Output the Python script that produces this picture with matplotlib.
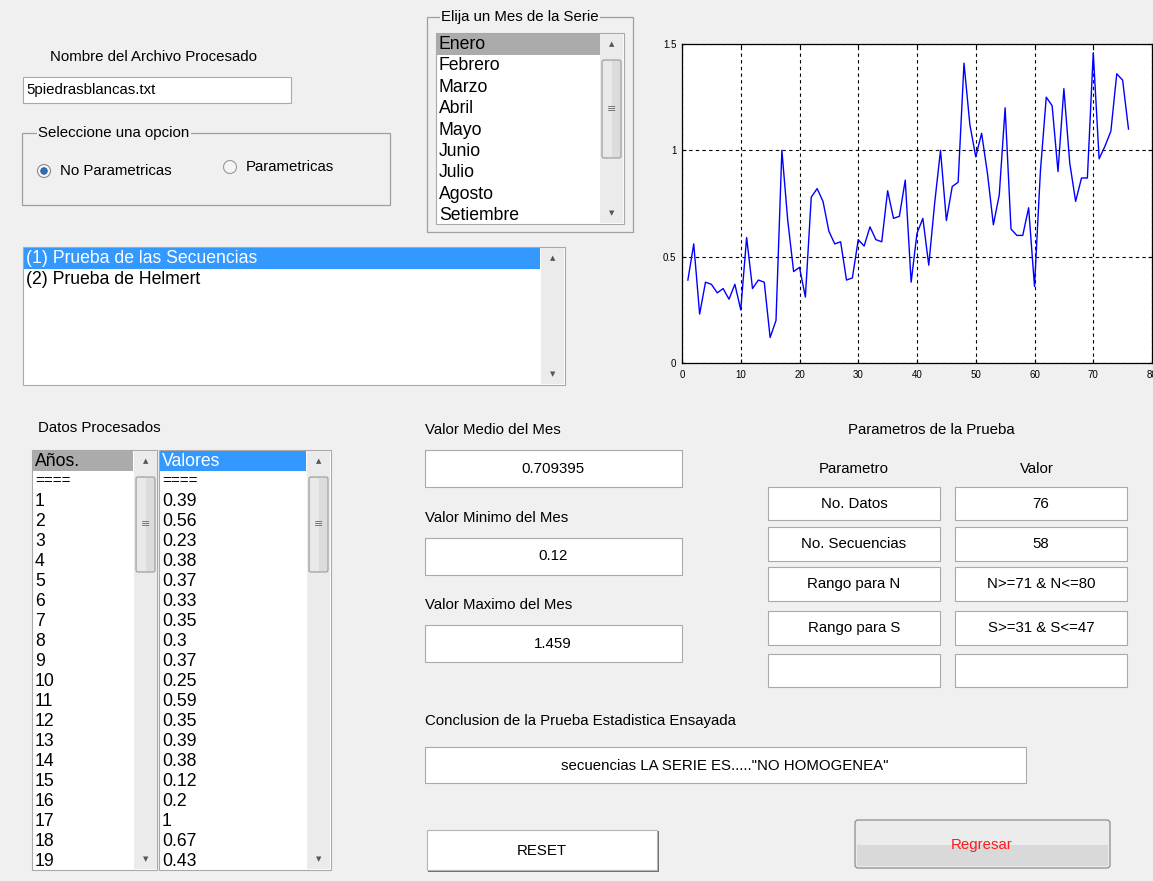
import numpy as np
import matplotlib
matplotlib.use('Agg')
import matplotlib.pyplot as plt
from matplotlib.patches import Rectangle, Circle, FancyBboxPatch

plt.rcParams['font.family'] = ['Liberation Sans', 'DejaVu Sans']

# ---- data ----
valores = [0.39, 0.56, 0.23, 0.38, 0.37, 0.33, 0.35, 0.30, 0.37, 0.25,
           0.59, 0.35, 0.39, 0.38, 0.12, 0.20, 1.00, 0.67, 0.43, 0.45,
           0.31, 0.78, 0.82, 0.76, 0.62, 0.56, 0.57, 0.39, 0.40, 0.58,
           0.55, 0.64, 0.58, 0.57, 0.81, 0.68, 0.69, 0.86, 0.38, 0.61,
           0.68, 0.46, 0.75, 1.00, 0.67, 0.83, 0.85, 1.41, 1.12, 0.97,
           1.08, 0.89, 0.65, 0.79, 1.20, 0.63, 0.60, 0.60, 0.73, 0.36,
           0.90, 1.25, 1.21, 0.90, 1.29, 0.94, 0.76, 0.87, 0.87, 1.459,
           0.96, 1.02, 1.09, 1.36, 1.33, 1.10]
anos = list(range(1, len(valores) + 1))

meses = ['Enero', 'Febrero', 'Marzo', 'Abril', 'Mayo', 'Junio', 'Julio',
         'Agosto', 'Setiembre']
pruebas = ['(1) Prueba de las Secuencias', '(2) Prueba de Helmert']
param_nombres = ['No. Datos', 'No. Secuencias', 'Rango para N', 'Rango para S', '']
param_valores = [str(len(valores)), '58', 'N>=71 & N<=80', 'S>=31 & S<=47', '']
archivo = '5piedrasblancas.txt'
valor_medio = '0.709395'
conclusion = 'secuencias LA SERIE ES....."NO HOMOGENEA"'
filas_visibles = 19

W, H = 1153, 881
BG = '#f0f0f0'
EDGE = '#a9a9a9'
SEL_BLUE = '#3399ff'
SEL_GRAY = '#ababab'
FS = 10.8      # label / edit-box font
FL = 12.7      # listbox font

fig = plt.figure(figsize=(W / 100, H / 100), dpi=100, facecolor=BG)
ui = fig.add_axes([0, 0, 1, 1])
ui.set_xlim(0, W)
ui.set_ylim(H, 0)
ui.axis('off')


def caja(x0, y0, x1, y1, fc='white', ec=EDGE, lw=0.8, z=1):
    ui.add_patch(Rectangle((x0, y0), x1 - x0, y1 - y0, facecolor=fc,
                           edgecolor=ec, linewidth=lw, zorder=z))


def texto(x, y, s, size=FS, ha='left', color='black', z=5, **kw):
    ui.text(x, y, s, fontsize=size, ha=ha, va='center', color=color,
            zorder=z, **kw)


def scrollbar(x0, y0, x1, y1, t0=None, t1=None):
    caja(x0, y0, x1, y1, fc='#ebebeb', ec='none', z=2)
    xc = (x0 + x1) / 2
    texto(xc, y0 + 10, '\u25b2', size=5, ha='center', color='#555555',
          family='DejaVu Sans')
    texto(xc, y1 - 10, '\u25bc', size=5, ha='center', color='#555555',
          family='DejaVu Sans')
    if t0 is None:
        return
    ui.add_patch(FancyBboxPatch((x0 + 2, t0), x1 - x0 - 4, t1 - t0,
                                boxstyle='round,pad=0,rounding_size=2',
                                facecolor='#dcdcdc', edgecolor='#9a9a9a',
                                linewidth=0.8, zorder=3))
    ui.add_patch(Rectangle((x0 + 3, t0 + 1), (x1 - x0 - 6) / 2, t1 - t0 - 2,
                           facecolor='#e9e9e9', edgecolor='none', zorder=3))
    texto(xc, (t0 + t1) / 2, '\u2261', size=8, ha='center',
          color='#707070', family='DejaVu Sans')


def grupo(x0, y0, x1, y1, titulo, tx):
    caja(x0, y0, x1, y1, fc='none', ec='#a0a0a0', lw=0.9)
    texto(tx, y0, titulo, bbox=dict(facecolor=BG, edgecolor='none', pad=1))


# ---- file name ----
texto(50, 57, 'Nombre del Archivo Procesado')
caja(23, 77, 291, 103)
texto(26, 90, archivo)

# ---- option group ----
grupo(22, 133, 390, 205, 'Seleccione una opcion', 38)
ui.add_patch(Circle((44, 171), 6.5, facecolor='#f6f6f6', edgecolor='#8a8a8a',
                    linewidth=0.8, zorder=3))
ui.add_patch(Circle((44, 171), 3.3, facecolor='#2a6ebd', edgecolor='#1b4f8a',
                    linewidth=0.5, zorder=4))
texto(60, 171, 'No Parametricas')
ui.add_patch(Circle((230, 167), 6.5, facecolor='#f4f4f4', edgecolor='#9a9a9a',
                    linewidth=0.8, zorder=3))
texto(246, 167, 'Parametricas')

# ---- month list ----
grupo(427, 17, 633, 232, 'Elija un Mes de la Serie', 441)
caja(436, 33, 624, 224)
caja(437, 34, 600, 55, fc=SEL_GRAY, ec='none', z=2)
for i, m in enumerate(meses):
    texto(439, 44.5 + 21.4 * i, m, size=FL)
scrollbar(600, 34, 623, 223, 60, 158)

# ---- test list ----
caja(23, 247, 565, 385)
caja(24, 248, 540, 269, fc=SEL_BLUE, ec='none', z=2)
for i, p in enumerate(pruebas):
    texto(26, 258.5 + 21.5 * i, p, size=FL, color='white' if i == 0 else 'black')
scrollbar(541, 248, 564, 384)

# ---- processed data lists ----
texto(38, 428, 'Datos Procesados')
caja(32, 450, 157, 870)
caja(159, 450, 331, 870)
caja(33, 451, 133, 471, fc=SEL_GRAY, ec='none', z=2)
caja(160, 451, 306, 471, fc=SEL_BLUE, ec='none', z=2)
texto(35, 461, 'A\u00f1os.', size=FL)
texto(162, 461, 'Valores', size=FL, color='white')
texto(35, 481, '====', size=11)
texto(162, 481, '====', size=11)
for i in range(filas_visibles):
    y = 501 + 20 * i
    texto(35, y, str(anos[i]), size=FL)
    texto(162, y, f'{valores[i]:g}', size=FL)
scrollbar(134, 451, 157, 869, 477, 572)
scrollbar(307, 451, 330, 869, 477, 572)

# ---- monthly stats ----
stats = [('Valor Medio del Mes', valor_medio),
         ('Valor Minimo del Mes', f'{min(valores):g}'),
         ('Valor Maximo del Mes', f'{max(valores):g}')]
for i, (lab, val) in enumerate(stats):
    y0 = 450 + 87.5 * i
    texto(425, y0 - 20, lab)
    caja(425, y0, 682, y0 + 37)
    texto(553, y0 + 19, val, ha='center')

# ---- test parameters ----
texto(931, 430, 'Parametros de la Prueba', ha='center')
texto(854, 469, 'Parametro', ha='center')
texto(1037, 469, 'Valor', ha='center')
filas = [(487, 520), (527, 561), (567, 601), (611, 645), (654, 687)]
for (y0, y1), nom, val in zip(filas, param_nombres, param_valores):
    caja(768, y0, 940, y1)
    caja(955, y0, 1127, y1)
    texto(854, (y0 + y1) / 2, nom, ha='center')
    texto(1041, (y0 + y1) / 2, val, ha='center')

# ---- conclusion ----
texto(425, 721, 'Conclusion de la Prueba Estadistica Ensayada')
caja(425, 747, 1026, 783)
texto(725, 766, conclusion, ha='center')

# ---- buttons ----
caja(428, 831, 659, 872, fc='#6f6f6f', ec='none', z=1)
caja(427, 830, 657, 870, fc='white', ec='#b5b5b5', z=2)
texto(542, 851, 'RESET', ha='center')
ui.add_patch(FancyBboxPatch((855, 820), 255, 48,
                            boxstyle='round,pad=0,rounding_size=3',
                            facecolor='#ececec', edgecolor='#8c8c8c',
                            linewidth=0.9, zorder=2))
caja(857, 845, 1108, 866, fc='#d9d9d9', ec='none', z=3)
texto(982, 845, 'Regresar', ha='center', color='#ff1a1a')

# ---- series plot ----
ax = fig.add_axes([682 / W, 1 - 363 / H, 470 / W, 319 / H])
ax.set_facecolor('white')
ax.plot(anos, valores, color='blue', linewidth=1.0, zorder=3)
ax.set_xlim(0, 80)
ax.set_ylim(0, 1.5)
ax.set_xticks(range(0, 81, 10))
ax.set_yticks([0, 0.5, 1, 1.5])
ax.set_yticklabels(['0', '0.5', '1', '1.5'])
ax.grid(True, color='black', linestyle=(0, (3, 3)), linewidth=0.8)
ax.tick_params(direction='in', length=3, width=0.8, labelsize=7,
               top=True, right=True)
ax.tick_params(axis='x', pad=5)
ax.tick_params(axis='y', pad=4)
for s in ax.spines.values():
    s.set_linewidth(0.9)

fig.savefig('out.png', dpi=100, facecolor=BG)
